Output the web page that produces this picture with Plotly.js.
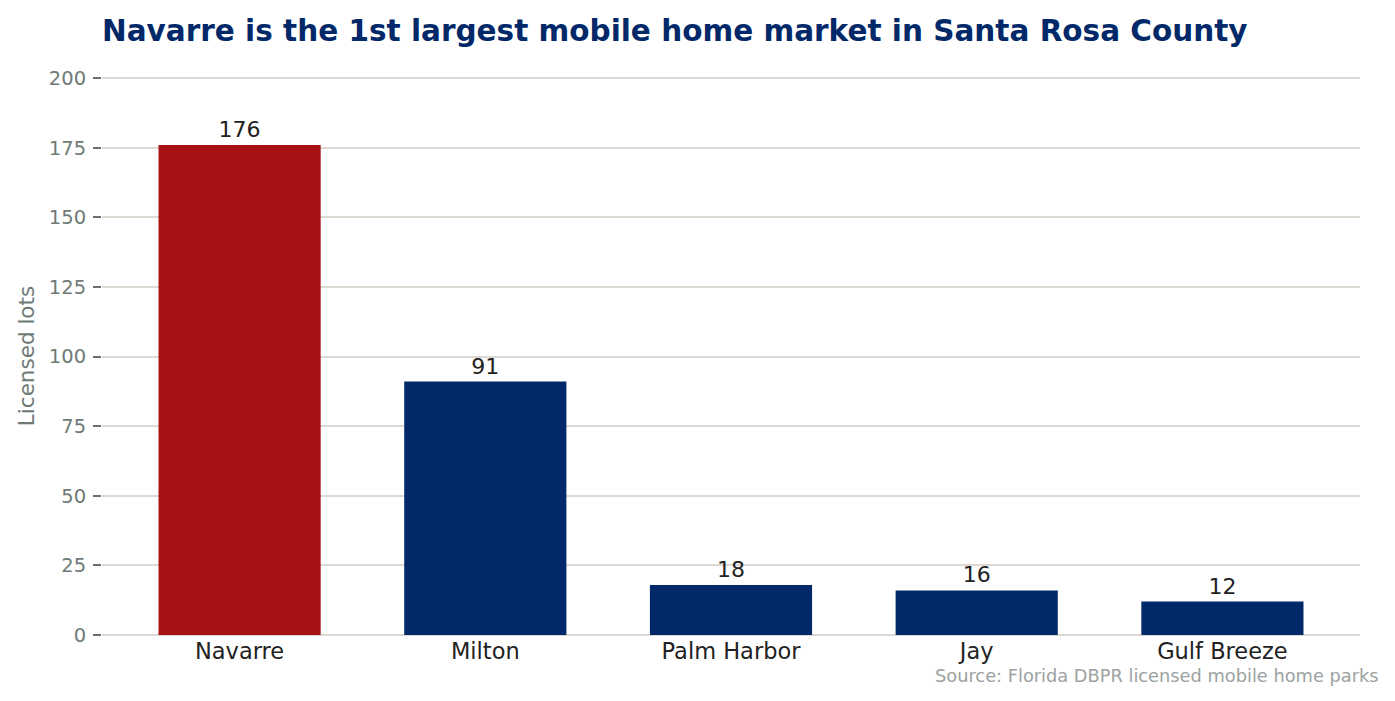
<!DOCTYPE html>
<html>
<head>
<meta charset="utf-8">
<script src="https://cdn.plot.ly/plotly-3.0.1.min.js"></script>
<style>
  html, body { margin: 0; padding: 0; background: #fff; }
  #chart { width: 1395px; height: 701px; }
</style>
</head>
<body>
<div id="chart"></div>
<script>
// Licensed mobile home lots by market, Santa Rosa County
const markets = ["Navarre", "Milton", "Palm Harbor", "Jay", "Gulf Breeze"];
const lots = [176, 91, 18, 16, 12];
const yTicks = [0, 25, 50, 75, 100, 125, 150, 175, 200];

const NAVY = "#012868";
const RED = "#a81114";
const GRID = "#dcd9d3";
const FONT = "DejaVu Sans, sans-serif";

const barColors = markets.map((m, i) => (i === 0 ? RED : NAVY));

const trace = {
  x: markets,
  y: lots,
  type: "bar",
  width: 0.66,
  marker: { color: barColors, line: { width: 0 } },
  text: lots.map(String),
  textposition: "outside",
  cliponaxis: false,
  textfont: { family: FONT, size: 22, color: "#222222" },
  hoverinfo: "x+y",
};

const layout = {
  width: 1395,
  height: 701,
  paper_bgcolor: "#ffffff",
  plot_bgcolor: "#ffffff",
  margin: { l: 102, r: 35, t: 77, b: 66 },
  showlegend: false,
  font: { family: FONT },
  title: {
    text: "<b>Navarre is the 1st largest mobile home market in Santa Rosa County</b>",
    font: { family: FONT, size: 29.5, color: NAVY },
    x: 102 / 1395,
    xanchor: "left",
    y: 1 - 31 / 701,
    yanchor: "middle",
  },
  xaxis: {
    range: [-0.56, 4.56],
    showgrid: false,
    showline: false,
    zeroline: false,
    ticks: "",
    tickfont: { family: FONT, size: 22.5, color: "#222222" },
  },
  yaxis: {
    range: [0, 200.4],
    tickvals: yTicks,
    showgrid: true,
    gridcolor: GRID,
    gridwidth: 1.5,
    zeroline: true,
    zerolinecolor: GRID,
    zerolinewidth: 2,
    showline: false,
    ticks: "outside",
    ticklen: 8,
    tickwidth: 2,
    tickcolor: "#67716f",
    ticklabelstandoff: 3,
    tickfont: { family: FONT, size: 19.5, color: "#6f7a77" },
    title: {
      text: "Licensed lots",
      font: { family: FONT, size: 21.5, color: "#6f7a77" },
      standoff: 8,
    },
  },
  annotations: [
    {
      text: "Source: Florida DBPR licensed mobile home parks",
      xref: "paper",
      yref: "paper",
      xanchor: "right",
      yanchor: "middle",
      showarrow: false,
      font: { family: FONT, size: 17.8, color: "#9ba2a0" },
    },
  ],
};

// place the source note at pixel position (1381, 675) in paper units
(function () {
  const pw = 1395 - 102 - 35;
  const ph = 701 - 77 - 66;
  const a = layout.annotations[0];
  a.x = (1381 - 102) / pw;
  a.y = (635 - 675) / ph;
})();

Plotly.newPlot("chart", [trace], layout, { displayModeBar: false, responsive: false });
</script>
</body>
</html>
